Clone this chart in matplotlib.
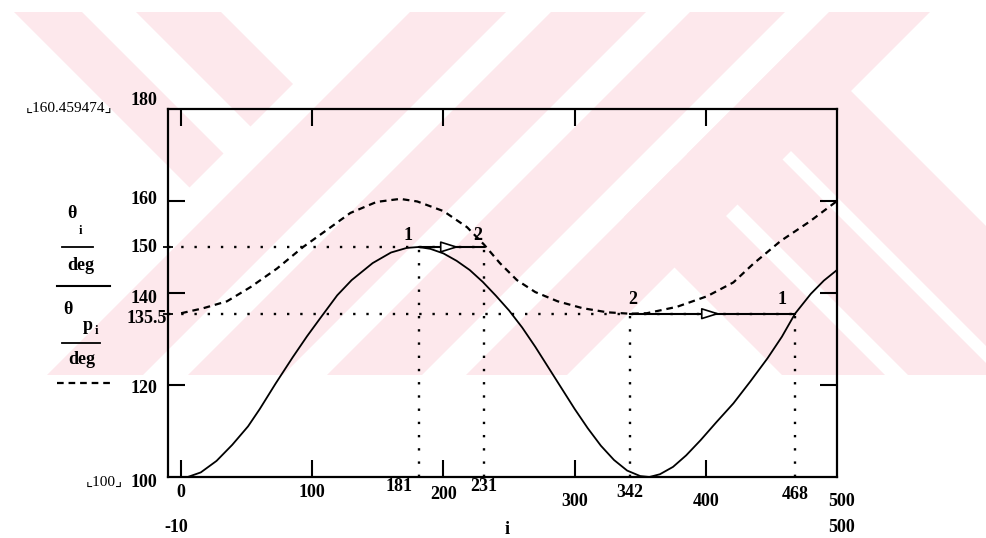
'''
  - Mathcad style plot of theta_i and theta_p_i against i, with the two level crossings.
'''

import matplotlib
matplotlib.use("Agg")
from matplotlib import pyplot as plt
from matplotlib.lines import Line2D
from matplotlib.patches import Polygon

W, H = 986, 538
FONT = ['Liberation Serif', 'DejaVu Serif', 'DejaVu Sans']
PINK = '#fde8ec'

# theta_i / deg (solid)
i_solid = [0, 5, 15, 27, 39, 51, 60, 72, 85, 96, 106, 119, 130, 146, 160, 172, 181,
           190, 200, 210, 220, 230, 240, 250, 260, 270, 280, 290, 300, 310, 320,
           330, 340, 350, 357, 365, 375, 385, 396, 408, 421, 434, 447, 458, 468,
           480, 490, 500]
theta_solid = [100, 100, 101, 103.5, 107, 111, 114.8, 120.3, 126, 130.6, 134.5,
               139.5, 142.8, 146.5, 148.8, 149.8, 150,
               149.6, 148.6, 147, 145, 142.4, 139.4, 136.2, 132.5, 128.3, 123.8,
               119.3, 114.8, 110.6, 106.8, 103.7, 101.4, 100.2, 100, 100.6, 102.2,
               104.7, 108, 111.9, 116, 120.8, 125.8, 130.5, 135.5, 139.8, 142.7, 145]

# theta_p_i / deg (dashed)
i_dash = [0, 17, 35, 53, 73, 93, 114, 129, 149, 167, 180, 200, 218, 231, 243, 256,
          270, 287, 306, 325, 342, 355, 378, 401, 421, 436, 457, 479, 500]
theta_dash = [135.6, 136.7, 138.2, 141.3, 145.3, 150, 154.3, 157.4, 159.8, 160.46,
              159.9, 157.8, 154.3, 150.5, 146.5, 142.8, 140.2, 138.2, 136.7, 135.8,
              135.5, 135.6, 137, 139.3, 142.3, 146.3, 151.3, 155.5, 160]

level_hi = 150
level_lo = 135.5
hi_marks = [181, 231]
lo_marks = [342, 468]

xticks = [0, 100, 200, 300, 400]
yticks = [120, 140, 160]
x_labels = ['0', '100', '181', '200', '231', '300', '342', '400', '468', '500']
y_labels = ['180', '160', '150', '140', '135.5', '120', '100']


def fx(x):
    return x / W


def fy(y):
    return 1 - y / H


def to_fig(pts):
    return [(fx(a), fy(b)) for a, b in pts]


fig = plt.figure(figsize=(W / 100, H / 100), dpi=100)

# faint pink watermark stripes behind the plot (pixel coords, y from 12 to 375)
WM_TOP, WM_BOT = 12, 375
drop = WM_BOT - WM_TOP
left_zone = [(-50, -50), (427, -50), (-50, 427)]            # x + y < 377
right_zone = [(891, -50), (3000, -50), (3000, 3000), (-50, 3000), (-50, 891)]
bands = [((14, 82), 1, left_zone), ((136, 221), 1, left_zone),
         ((410, 506), -1, None), ((551, 646), -1, None), ((690, 785), -1, None),
         ((829, 930), -1, None),
         ((419, 522), 1, right_zone), ((545, 635), 1, right_zone),
         ((652, 772), 1, right_zone)]
for (x0, x1), sgn, zone in bands:
    pts = [(x0, WM_TOP), (x1, WM_TOP), (x1 + sgn * drop, WM_BOT), (x0 + sgn * drop, WM_BOT)]
    p = Polygon(to_fig(pts), closed=True, facecolor=PINK, edgecolor='none', zorder=0,
                transform=fig.transFigure)
    fig.add_artist(p)
    if zone is not None:
        clip = Polygon(to_fig(zone), closed=True, transform=fig.transFigure)
        p.set_clip_path(clip)

ax = fig.add_axes([fx(168), fy(477), (837 - 168) / W, (477 - 109) / H])
ax.patch.set_alpha(0)
ax.set_xlim(-10, 500)
ax.set_ylim(100, 180)

for s in ax.spines.values():
    s.set_linewidth(1.6)

ax.set_xticks(xticks)
ax.set_yticks(yticks)
ax.set_yticks([level_lo, level_hi], minor=True)
ax.tick_params(direction='in', length=12, width=1.5, top=True, right=True,
               labelbottom=False, labelleft=False)
ax.tick_params(axis='y', which='minor', direction='inout', length=7, width=1.3,
               right=False)

# curves
ax.plot(i_solid, theta_solid, color='k', lw=1.3)
ax.plot(i_dash, theta_dash, color='k', lw=1.6, dashes=(3, 2.2))

# dotted guide lines
dot = dict(color='k', lw=1.7, dashes=(1, 4.6))
ax.plot([-10, hi_marks[1]], [level_hi, level_hi], **dot)
ax.plot([-10, lo_marks[1]], [level_lo, level_lo], **dot)
for m in hi_marks:
    ax.plot([m, m], [100, level_hi], **dot)
for m in lo_marks:
    ax.plot([m, m], [100, level_lo], **dot)

# arrows 1 -> 2
for (a, b), lev in [(hi_marks, level_hi), (lo_marks, level_lo)]:
    ax.plot([a, b], [lev, lev], color='k', lw=1.5)
    mid = a + 0.5 * (b - a)
    ax.annotate('', xy=(mid + 8, lev), xytext=(mid - 8, lev),
                arrowprops=dict(arrowstyle='-|>,head_length=0.8,head_width=0.25',
                                color='k', fc='white', lw=1.2, mutation_scale=14))

tfont = dict(family=FONT, fontsize=13, fontweight='bold')
for m, lev, txt, off in [(hi_marks[0], level_hi, '1', (-11, 11)),
                         (hi_marks[1], level_hi, '2', (-6, 11)),
                         (lo_marks[0], level_lo, '2', (3, 14)),
                         (lo_marks[1], level_lo, '1', (-13, 14))]:
    ax.annotate(txt, xy=(m, lev), xytext=(off[0] * 0.72, off[1] * 0.72),
                textcoords='offset points', ha='center', va='center', **tfont)

# x tick labels (Mathcad puts marked values a little higher)
xlab_y = {'0': 493, '100': 493, '181': 487, '200': 495, '231': 487, '300': 502,
          '342': 493, '400': 502, '468': 495, '500': 502}
xlab_dx = {'181': -20, '500': 5}
for lab in x_labels:
    ax.annotate(lab, xy=(float(lab), 100), xycoords='data',
                xytext=(xlab_dx.get(lab, 0) * 0.72, -(xlab_y[lab] - 477) * 0.72),
                textcoords='offset points', ha='center', va='center', **tfont)

fig.text(fx(176), fy(528), '-10', ha='center', va='center', **tfont)
fig.text(fx(507), fy(530), 'i', ha='center', va='center', **tfont)
fig.text(fx(842), fy(528), '500', ha='center', va='center', **tfont)

# y tick labels
ylab_dy = {'180': -8, '160': -1, '150': 1, '140': 6, '135.5': 5, '120': 4, '100': 6}
for lab in y_labels:
    ax.annotate(lab, xy=(0, float(lab)), xycoords=('axes fraction', 'data'),
                xytext=(-11 * 0.72 if lab != '135.5' else -1 * 0.72,
                        -ylab_dy[lab] * 0.72),
                textcoords='offset points', ha='right', va='center', **tfont)

sfont = dict(family=FONT, fontsize=11)
fig.text(fx(112), fy(108), '\u231e160.459474\u231f', ha='right', va='center', **sfont)
fig.text(fx(123), fy(482), '\u231e100\u231f', ha='right', va='center', **sfont)

# left legend stack
lfont = dict(family=FONT, fontsize=13, fontweight='bold')
fig.text(fx(72), fy(213), '\u03b8', ha='center', va='center', **lfont)
fig.text(fx(80), fy(231), 'i', ha='center', va='center', family=FONT, fontsize=9,
         fontweight='bold')
fig.add_artist(Line2D([fx(62), fx(93)], [fy(247), fy(247)], color='k', lw=1.3))
fig.text(fx(81), fy(265), 'deg', ha='center', va='center', **lfont)
fig.add_artist(Line2D([fx(57), fx(110)], [fy(286), fy(286)], color='k', lw=1.5))

fig.text(fx(68), fy(310), '\u03b8', ha='center', va='center', **lfont)
fig.text(fx(88), fy(325), 'p', ha='center', va='center', **lfont)
fig.text(fx(96), fy(331), 'i', ha='center', va='center', family=FONT, fontsize=9,
         fontweight='bold')
fig.add_artist(Line2D([fx(62), fx(100)], [fy(343), fy(343)], color='k', lw=1.3))
fig.text(fx(82), fy(360), 'deg', ha='center', va='center', **lfont)
fig.add_artist(Line2D([fx(57), fx(110)], [fy(383), fy(383)], color='k', lw=1.6,
                      dashes=(3, 2.2)))

plt.savefig('out.png', dpi=100)
